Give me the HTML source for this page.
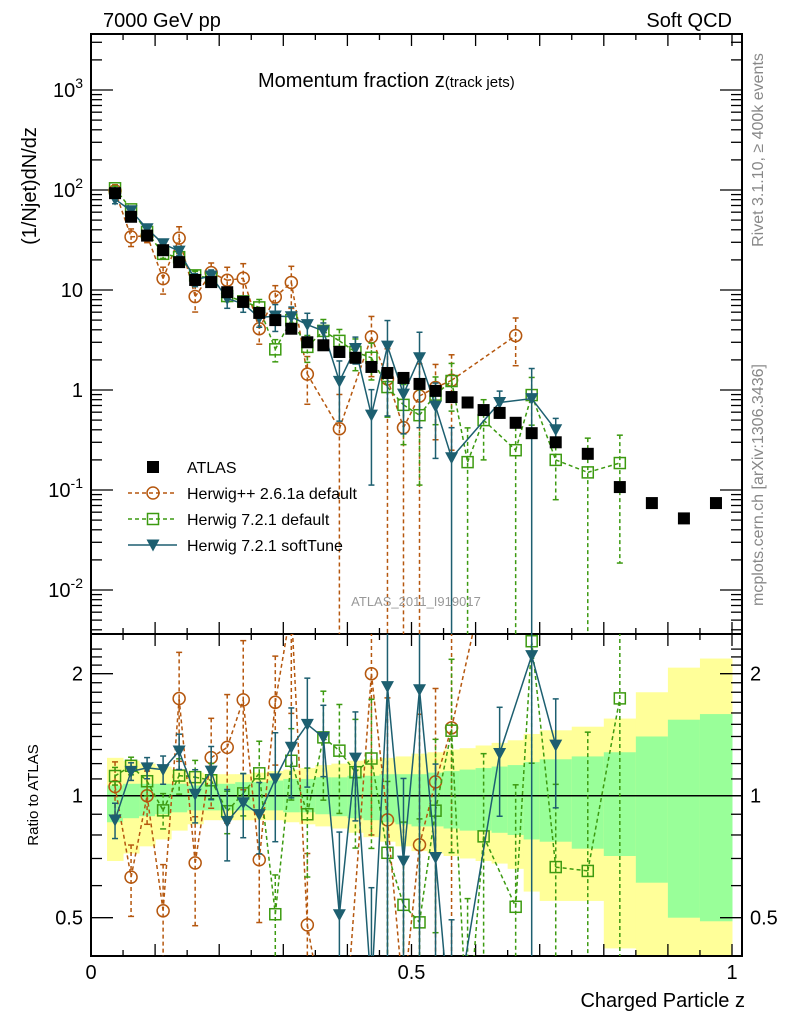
<!DOCTYPE html>
<html><head><meta charset="utf-8">
<style>
html,body{margin:0;padding:0;background:#fff;overflow:hidden;width:786px;height:1024px;}
svg{display:block;font-family:"Liberation Sans",sans-serif;}
</style></head>
<body>
<svg id="chart" width="786" height="1024" viewBox="0 0 786 1024" xmlns="http://www.w3.org/2000/svg">
<g id="bands"></g>
<g id="grid"></g>
<g id="series"></g>
<text x="103" y="27" font-size="20">7000 GeV pp</text>
<text x="732" y="27" font-size="20" text-anchor="end">Soft QCD</text>
<text x="258" y="87" font-size="20">Momentum fraction <tspan font-size="20">z</tspan><tspan font-size="15">(track jets)</tspan></text>
<text transform="translate(36,186) rotate(-90)" font-size="20" text-anchor="middle">(1/Njet)dN/dz</text>
<text transform="translate(763,150) rotate(-90)" font-size="16" fill="#888" text-anchor="middle">Rivet 3.1.10, ≥ 400k events</text>
<text transform="translate(763,485) rotate(-90)" font-size="16" fill="#888" text-anchor="middle">mcplots.cern.ch [arXiv:1306.3436]</text>
<text x="416" y="606" font-size="13" fill="#999" text-anchor="middle">ATLAS_2011_I919017</text>
<text transform="translate(38,795) rotate(-90)" font-size="15" text-anchor="middle">Ratio to ATLAS</text>
<text x="745" y="1007" font-size="20" text-anchor="end">Charged Particle z</text>
<g id="legend"></g>
</svg>
<script>
// ---- data ----
const zCenters=[0.0375,0.0625,0.0875,0.1125,0.1375,0.1625,0.1875,0.2125,0.2375,0.2625,0.2875,0.3125,0.3375,0.3625,0.3875,0.4125,0.4375,0.4625,0.4875,0.5125,0.5375,0.5625,0.5875,0.6125,0.6375,0.6625,0.6875,0.725,0.775,0.825,0.875,0.925,0.975];
const binLo=[0.025,0.05,0.075,0.1,0.125,0.15,0.175,0.2,0.225,0.25,0.275,0.3,0.325,0.35,0.375,0.4,0.425,0.45,0.475,0.5,0.525,0.55,0.575,0.6,0.625,0.65,0.675,0.7,0.75,0.8,0.85,0.9,0.95];
const binHi=[0.05,0.075,0.1,0.125,0.15,0.175,0.2,0.225,0.25,0.275,0.3,0.325,0.35,0.375,0.4,0.425,0.45,0.475,0.5,0.525,0.55,0.575,0.6,0.625,0.65,0.675,0.7,0.75,0.8,0.85,0.9,0.95,1.0];
const atlas=[93,54,35,25,19,12.6,12,9.5,7.6,5.9,5.0,4.1,3.0,2.8,2.4,2.1,1.7,1.48,1.32,1.15,0.98,0.85,0.75,0.63,0.59,0.47,0.37,0.30,0.23,0.107,0.074,0.052,0.074];
const hwpp=[98,34,35,13,33,8.6,14.9,12.5,13.1,4.1,8.5,11.9,1.44,null,0.41,null,3.4,1.29,0.42,0.87,1.06,1.25,null,null,null,3.5,null,null,null,null,null,null,null];
const hwppErr=[0.15,0.2,0.15,0.3,0.3,0.3,0.25,0.35,0.4,0.3,0.3,0.45,0.5,0,1.2,0,0.6,1.0,1.2,1.1,0.7,0.8,0,0,0,0.5,0,0,0,0,0,0,0];
const hw7=[104,64,38,23,21.3,14,13.1,8.7,7.7,6.7,2.55,5.0,2.7,3.9,3.1,2.4,2.1,1.07,0.71,0.56,0.90,1.23,0.19,0.50,null,0.25,0.89,0.20,0.15,0.186,null,null,null];
const hw7Err=[0.05,0.05,0.08,0.1,0.1,0.1,0.1,0.12,0.12,0.2,0.25,0.2,0.3,0.3,0.3,0.35,0.4,0.5,0.6,0.8,0.5,0.5,1.2,0.6,0,1.0,0.5,0.6,1.2,0.9,0,0,0];
const hw7soft=[81,62,41,29,24.5,12.7,13.8,8.2,7.3,5.3,5.5,5.4,4.5,3.9,1.22,2.6,0.56,2.75,0.91,2.1,0.69,0.21,null,null,0.75,null,0.82,0.40,null,null,null,null,null];
const softErr=[0.1,0.05,0.06,0.08,0.1,0.15,0.15,0.2,0.18,0.2,0.3,0.25,0.3,0.2,0.6,0.3,0.8,0.8,0.6,0.8,0.7,1.0,0,0,0.3,0,1.0,0.3,0,0,0,0,0];
const bandGHi=[1.06,1.07,1.07,1.07,1.07,1.06,1.07,1.07,1.08,1.08,1.09,1.10,1.10,1.11,1.11,1.12,1.12,1.13,1.13,1.13,1.14,1.15,1.16,1.17,1.18,1.19,1.21,1.23,1.25,1.28,1.40,1.54,1.59];
const bandGLo=[0.86,0.88,0.89,0.90,0.91,0.92,0.92,0.92,0.92,0.92,0.92,0.91,0.91,0.90,0.89,0.88,0.87,0.86,0.85,0.84,0.84,0.83,0.82,0.82,0.81,0.80,0.78,0.77,0.74,0.71,0.61,0.50,0.49];
const bandYHi=[1.24,1.22,1.20,1.18,1.16,1.14,1.13,1.13,1.13,1.14,1.15,1.16,1.17,1.19,1.20,1.22,1.23,1.24,1.25,1.27,1.28,1.30,1.31,1.33,1.35,1.37,1.42,1.45,1.48,1.55,1.80,2.07,2.18];
const bandYLo=[0.69,0.72,0.75,0.78,0.82,0.85,0.87,0.87,0.87,0.87,0.87,0.86,0.85,0.84,0.83,0.81,0.79,0.77,0.75,0.73,0.72,0.71,0.70,0.69,0.68,0.66,0.58,0.55,0.55,0.42,0.30,0.30,0.30];
const yTickLabels=["10^-2","10^-1","1","10","10^2","10^3"];
const ratioTickLabels=["0.5","1","2"];
const xTickLabels=["0","0.5","1"];

// ---- geometry ----
const L=91,R=742,T=34,MB=634,RB=956;
const X=z=>91+641*z;
const Y=v=>390-100*Math.log10(v);
const RY=r=>795.7-122*Math.log2(r);
const NS="http://www.w3.org/2000/svg";
function mk(parent,tag,attrs){const e=document.createElementNS(NS,tag);for(const k in attrs)e.setAttribute(k,attrs[k]);parent.appendChild(e);return e;}
const clampY=(y,a,b)=>Math.min(b+2,Math.max(a-2,y));
const gB=document.getElementById('bands'),gG=document.getElementById('grid'),gS=document.getElementById('series'),gL=document.getElementById('legend');
const clip=mk(document.getElementById('chart'),'defs',{});
const cp1=mk(clip,'clipPath',{id:'cTop'});mk(cp1,'rect',{x:L,y:T,width:R-L,height:MB-T});
const cp2=mk(clip,'clipPath',{id:'cRat'});mk(cp2,'rect',{x:L,y:MB,width:R-L,height:RB-MB});

for(let i=0;i<binLo.length;i++){
  const yt=Math.max(MB,RY(bandYHi[i])),yb=Math.min(RB,RY(bandYLo[i]));
  const y1=mk(gB,'rect',{x:X(binLo[i]),y:yt,width:X(binHi[i])-X(binLo[i])+0.5,height:yb-yt,fill:'#ffff99'});
  
  
  const g1=mk(gB,'rect',{x:X(binLo[i]),y:RY(bandGHi[i]),width:X(binHi[i])-X(binLo[i])+0.5,height:RY(bandGLo[i])-RY(bandGHi[i]),fill:'#99ff99'});
  
  
}
const one=mk(gB,'line',{x1:L,x2:R,y1:RY(1),y2:RY(1),stroke:'#000','stroke-width':1.5});



for(const [y1,y2] of [[T,MB],[MB,RB]]){
  const f=mk(gG,'rect',{x:L,y:y1,width:R-L,height:y2-y1,fill:'none',stroke:'#000','stroke-width':2});
  
  
}
for(let i=0;i<=20;i++){const z=i*0.05;const x=X(z);const big=i%2===0;const len=big?12:6;
  for(const [y,d] of [[T,1],[MB,-1],[MB,1],[RB,-1]]) mk(gG,'line',{x1:x,x2:x,y1:y,y2:y+d*len,stroke:'#000','stroke-width':1.3});
}
xTickLabels.forEach((t,i)=>{const tx=mk(gG,'text',{x:X(i*0.5),y:979,'font-size':20,'text-anchor':'middle'});tx.textContent=t;
  
  });
for(let d=-3;d<=3;d++){for(let m=1;m<10;m++){const v=m*Math.pow(10,d);const y=Y(v);if(y<T||y>MB)continue;const len=m===1?22:11;
  mk(gG,'line',{x1:L,x2:L+len,y1:y,y2:y,stroke:'#000','stroke-width':1.3});mk(gG,'line',{x1:R,x2:R-len,y1:y,y2:y,stroke:'#000','stroke-width':1.3});}}
yTickLabels.forEach((t,i)=>{const v=Math.pow(10,i-2);const y=Y(v)+7;const tx=mk(gG,'text',{x:83,y:y,'font-size':20,'text-anchor':'end'});
  if(t.indexOf('^')>=0){const p=t.split('^');tx.textContent=p[0];const s=mk(tx,'tspan',{dy:-9,'font-size':14});s.textContent=p[1];}else tx.textContent=t;
  
  });
for(let r=0.4;r<=2.4;r+=0.1){const rr=Math.round(r*10)/10;const y=RY(rr);if(y<MB||y>RB)continue;const big=(rr===0.5||rr===1||rr===2);const len=big?22:11;
  mk(gG,'line',{x1:L,x2:L+len,y1:y,y2:y,stroke:'#000','stroke-width':1.3});mk(gG,'line',{x1:R,x2:R-len,y1:y,y2:y,stroke:'#000','stroke-width':1.3});}
ratioTickLabels.forEach(t=>{const y=RY(parseFloat(t))+7;
  const a=mk(gG,'text',{x:83,y:y,'font-size':20,'text-anchor':'end'});a.textContent=t;
  
  
  const b=mk(gG,'text',{x:750,y:y,'font-size':20});b.textContent=t;
  
  });

const specs=[
 {vals:hwpp,err:hwppErr,col:'#b5570e',dash:'4,3',mark:'circle',name:'herwigpp-2-6-1a'},
 {vals:hw7,err:hw7Err,col:'#3c9a10',dash:'4,3',mark:'square',name:'herwig-7-2-1-default'},
 {vals:hw7soft,err:softErr,col:'#1d5f70',dash:null,mark:'tri',name:'herwig-7-2-1-softtune'}];
function marker(g,mk_,x,y,col){
  if(mk_==='circle')return mk(g,'circle',{cx:x,cy:y,r:6,fill:'none',stroke:col,'stroke-width':1.5});
  if(mk_==='square')return mk(g,'rect',{x:x-5.5,y:y-5.5,width:11,height:11,fill:'none',stroke:col,'stroke-width':1.5});
  return mk(g,'polygon',{points:`${x-6.5},${y-5.5} ${x+6.5},${y-5.5} ${x},${y+6.5}`,fill:col});
}
function drawPanel(clipId,yf,getV,yA,yB){
  specs.forEach(s=>{
    const g=mk(gS,'g',{'clip-path':`url(#${clipId})`});
    
    
    // build line segments clipped in y to the panel range
    const pts=[];
    for(let i=0;i<zCenters.length;i++){const v=getV(s,i);if(v==null)continue;pts.push([X(zCenters[i]),yf(v)]);}
    let d='';
    for(let j=0;j+1<pts.length;j++){
      let [x1,y1]=pts[j],[x2,y2]=pts[j+1];
      const lo=yA-3,hi=yB+3;
      if((y1<lo&&y2<lo)||(y1>hi&&y2>hi))continue;
      const cl=(xa,ya,xb,yb)=>{let x=xa,y=ya;if(ya<lo){x=xa+(xb-xa)*(lo-ya)/(yb-ya);y=lo;}else if(ya>hi){x=xa+(xb-xa)*(hi-ya)/(yb-ya);y=hi;}return [x,y];};
      const a=cl(x1,y1,x2,y2),b=cl(x2,y2,x1,y1);
      d+='M'+a[0].toFixed(1)+','+a[1].toFixed(1)+'L'+b[0].toFixed(1)+','+b[1].toFixed(1);
    }
    const pl=mk(g,'path',{d:d||'M0,0',fill:'none',stroke:s.col,'stroke-width':1.5});if(s.dash)pl.setAttribute('stroke-dasharray',s.dash);
    for(let i=0;i<zCenters.length;i++){const v=getV(s,i);if(v==null)continue;const x=X(zCenters[i]),y=yf(v);const e=s.err[i];
      const lo=Math.max(v*(1-e),v*0.001);const yh=clampY(yf(v*(1+e)),yA,yB),yl=clampY(yf(lo),yA,yB);
      const el=mk(g,'line',{x1:x,x2:x,y1:yh,y2:yl,stroke:s.col,'stroke-width':1.5});if(s.dash)el.setAttribute('stroke-dasharray','4,3');
      mk(g,'line',{x1:x-3,x2:x+3,y1:yh,y2:yh,stroke:s.col,'stroke-width':1.5});mk(g,'line',{x1:x-3,x2:x+3,y1:yl,y2:yl,stroke:s.col,'stroke-width':1.5});
      if(y<yA-8||y>yB+8)continue;
      const m=marker(g,s.mark,x,y,s.col);
      
      
    }
  });
}
drawPanel('cTop',Y,(s,i)=>s.vals[i],T,MB);
drawPanel('cRat',RY,(s,i)=>s.vals[i]==null?null:s.vals[i]/atlas[i],MB,RB);
for(let i=0;i<atlas.length;i++){const x=X(zCenters[i]),y=Y(atlas[i]);
  const r=mk(gS,'rect',{x:x-6,y:y-6,width:12,height:12,fill:'#000'});
  
  }

const leg=[{t:'ATLAS',m:'black'},{t:'Herwig++ 2.6.1a default',s:specs[0]},{t:'Herwig 7.2.1 default',s:specs[1]},{t:'Herwig 7.2.1 softTune',s:specs[2]}];
leg.forEach((e,i)=>{const y=467+i*26;const g=mk(gL,'g',{});
  
  
  if(e.m==='black'){mk(g,'rect',{x:147,y:y-6,width:12,height:12,fill:'#000'});}
  else{const ln=mk(g,'line',{x1:128,x2:177,y1:y,y2:y,stroke:e.s.col,'stroke-width':1.5});if(e.s.dash)ln.setAttribute('stroke-dasharray',e.s.dash);marker(g,e.s.mark,153,y,e.s.col);}
  const tx=mk(g,'text',{x:187,y:y+6,'font-size':16});tx.textContent=e.t;});
</script>
</body></html>
